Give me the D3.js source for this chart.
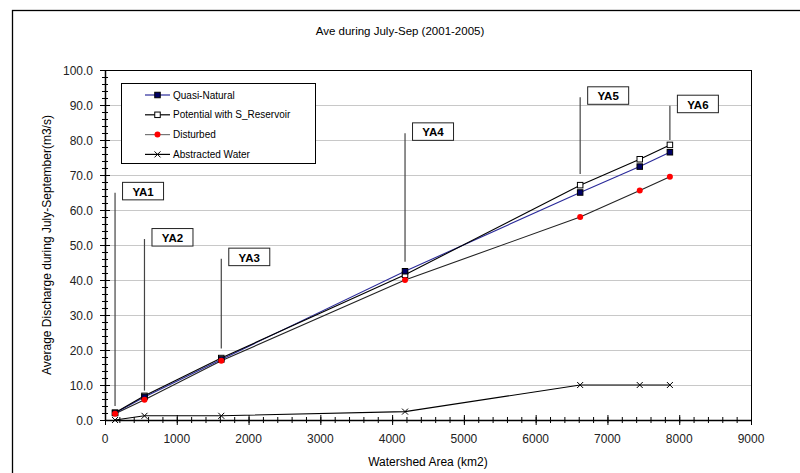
<!DOCTYPE html>
<html><head><meta charset="utf-8">
<script src="https://cdn.jsdelivr.net/npm/d3@7"></script>
<style>body{margin:0;background:#fff}svg{display:block;font-family:"Liberation Sans",Arial,sans-serif}</style>
</head><body><svg id="c" width="800" height="473"></svg>
<script>
const areas = [140, 550, 1620, 4180, 6620, 7450, 7870];
const quasiNatural = [2.0, 6.6, 17.3, 42.5, 65.0, 72.4, 76.5];
const potential = [2.1, 6.9, 17.7, 41.5, 67.1, 74.5, 78.6];
const disturbed = [1.8, 5.8, 16.9, 40.0, 58.0, 65.6, 69.5];
const abstracted = [0.0, 1.2, 1.2, 2.4, 10.0, 10.0, 10.0];
const yTicks = [0, 10, 20, 30, 40, 50, 60, 70, 80, 90, 100];
const xTicks = [0, 1000, 2000, 3000, 4000, 5000, 6000, 7000, 8000, 9000];
const siteLabels = ["YA1", "YA2", "YA3", "YA4", "YA5", "YA6"];
const siteIndex = [0, 1, 2, 3, 4, 6];
const leaderTop = [64.9, 51.7, 46.1, 81.9, 92.2, 89.8];
const leaderBottom = [4.0, 8.4, 20.4, 45.2, 70.3, 80.0];
const seriesNames = ["Quasi-Natural", "Potential with S_Reservoir", "Disturbed", "Abstracted Water"];

const svg = d3.select("#c");
const L = 105, R = 751, T = 70, B = 420;
const x = d3.scaleLinear().domain([0, 9000]).range([L, R]);
const y = d3.scaleLinear().domain([0, 100]).range([B, T]);

// outer frame
svg.append("rect").attr("x", 12.5).attr("y", 10.5).attr("width", 800).attr("height", 480)
  .attr("fill", "none").attr("stroke", "#000").attr("stroke-width", 1.3);

svg.append("text").attr("x", 400).attr("y", 35).attr("text-anchor", "middle")
  .attr("font-size", 11.5).text("Ave during July-Sep (2001-2005)");

// gridlines
svg.append("g").selectAll("line").data(yTicks.filter(d => d > 0 && d < 100)).join("line")
  .attr("x1", L).attr("x2", R).attr("y1", d => y(d) + 0.5).attr("y2", d => y(d) + 0.5)
  .attr("stroke", "#c8c8c8").attr("stroke-width", 1.2);

// plot border
svg.append("rect").attr("x", L + 0.5).attr("y", T + 0.5).attr("width", R - L).attr("height", B - T)
  .attr("fill", "none").attr("stroke", "#000").attr("stroke-width", 1);

// y axis
const yMinor = d3.range(0, 100.01, 2);
const gy = svg.append("g");
gy.selectAll("line.mi").data(yMinor).join("line").attr("class", "mi")
  .attr("x1", L - 3).attr("x2", L + 3).attr("y1", d => y(d) + 0.5).attr("y2", d => y(d) + 0.5)
  .attr("stroke", "#000");
gy.selectAll("line.ma").data(yTicks).join("line").attr("class", "ma")
  .attr("x1", L - 5).attr("x2", L + 5).attr("y1", d => y(d) + 0.5).attr("y2", d => y(d) + 0.5)
  .attr("stroke", "#000");
gy.append("line").attr("x1", L + 0.5).attr("x2", L + 0.5).attr("y1", T).attr("y2", B + 1).attr("stroke", "#000").attr("stroke-width", 1.5);
gy.selectAll("text").data(yTicks).join("text")
  .attr("x", 93).attr("y", d => y(d) + 4.5).attr("text-anchor", "end").attr("font-size", 12)
  .attr("fill", "#222").text(d => d3.format(".1f")(d));

// x axis
const xMinor = d3.range(0, 9000.1, 200);
const gx = svg.append("g");
gx.selectAll("line.mi").data(xMinor).join("line").attr("class", "mi")
  .attr("x1", d => x(d) + 0.5).attr("x2", d => x(d) + 0.5).attr("y1", B - 3).attr("y2", B + 3)
  .attr("stroke", "#000");
gx.selectAll("line.ma").data(xTicks).join("line").attr("class", "ma")
  .attr("x1", d => x(d) + 0.5).attr("x2", d => x(d) + 0.5).attr("y1", B - 5).attr("y2", B + 5)
  .attr("stroke", "#000");
gx.append("line").attr("x1", L).attr("x2", R + 1).attr("y1", B + 0.5).attr("y2", B + 0.5).attr("stroke", "#000").attr("stroke-width", 1.5);
gx.selectAll("text").data(xTicks).join("text")
  .attr("x", d => x(d)).attr("y", 443).attr("text-anchor", "middle").attr("font-size", 12)
  .attr("fill", "#222").text(d => d);

svg.append("text").attr("x", (L + R) / 2).attr("y", 466).attr("text-anchor", "middle")
  .attr("font-size", 12).text("Watershed Area (km2)");
svg.append("text").attr("transform", `translate(51,${(T + B) / 2}) rotate(-90)`)
  .attr("text-anchor", "middle").attr("font-size", 12)
  .text("Average Discharge during July-September(m3/s)");

// leader lines and labels
const ann = svg.append("g");
siteLabels.forEach((lab, i) => {
  const xv = x(areas[siteIndex[i]]);
  const yt = y(leaderTop[i]);
  ann.append("line").attr("x1", xv).attr("x2", xv).attr("y1", yt).attr("y2", y(leaderBottom[i]))
    .attr("stroke", "#444").attr("stroke-width", 1.2);
  ann.append("rect").attr("x", xv + 7.5).attr("y", yt - 10.5).attr("width", 41).attr("height", 17.5)
    .attr("fill", "#fff").attr("stroke", "#222").attr("stroke-width", 1);
  ann.append("text").attr("x", xv + 28).attr("y", yt + 3).attr("text-anchor", "middle")
    .attr("font-size", 11.5).attr("font-weight", "bold").text(lab);
});

// series
const series = [
  {name: seriesNames[0], vals: quasiNatural, line: "#2a2a9a", marker: "sq", fill: "#000066"},
  {name: seriesNames[1], vals: potential, line: "#000", marker: "sq", fill: "#fff"},
  {name: seriesNames[2], vals: disturbed, line: "#222", marker: "ci", fill: "#ff0000"},
  {name: seriesNames[3], vals: abstracted, line: "#000", marker: "x", fill: "none"}
];
const lineGen = d3.line().x(d => x(d[0])).y(d => y(d[1]));
function drawMarker(g, type, cx, cy, fill) {
  if (type === "sq") {
    g.append("rect").attr("x", cx - 2.75).attr("y", cy - 2.75).attr("width", 5.5).attr("height", 5.5)
      .attr("fill", fill).attr("stroke", "#000").attr("stroke-width", 1);
  } else if (type === "ci") {
    g.append("circle").attr("cx", cx).attr("cy", cy).attr("r", 3).attr("fill", fill);
  } else {
    g.append("path").attr("d", `M${cx-3},${cy-3}L${cx+3},${cy+3}M${cx-3},${cy+3}L${cx+3},${cy-3}`)
      .attr("stroke", "#000").attr("stroke-width", 1);
  }
}
[3, 2, 0, 1].forEach(si => {
  const s = series[si];
  const pts = areas.map((a, i) => [a, s.vals[i]]);
  svg.append("path").attr("d", lineGen(pts)).attr("fill", "none").attr("stroke", s.line).attr("stroke-width", 1.1);
});
[3, 1, 0, 2].forEach(si => {
  const s = series[si];
  const g = svg.append("g");
  areas.forEach((a, i) => drawMarker(g, s.marker, x(a), y(s.vals[i]), s.fill));
});

// legend
const lg = svg.append("g");
lg.append("rect").attr("x", 121.5).attr("y", 83.5).attr("width", 194).attr("height", 80)
  .attr("fill", "#fff").attr("stroke", "#000").attr("stroke-width", 1);
const legendLine = ["#2a2a9a", "#000", "#777", "#000"];
series.forEach((s, i) => {
  const cy = 95 + i * 19.8;
  lg.append("line").attr("x1", 145).attr("x2", 170).attr("y1", cy).attr("y2", cy).attr("stroke", legendLine[i]).attr("stroke-width", 1.2);
  drawMarker(lg, s.marker, 157.5, cy, s.fill);
  lg.append("text").attr("x", 173).attr("y", cy + 3.5).attr("font-size", 10).text(s.name);
});
</script></body></html>
